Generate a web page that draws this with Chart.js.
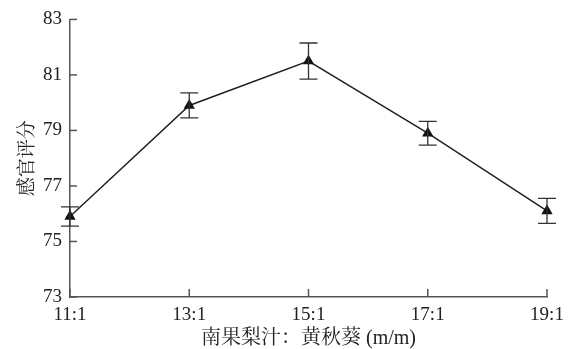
<!DOCTYPE html>
<html>
<head>
<meta charset="utf-8">
<script src="https://cdn.jsdelivr.net/npm/chart.js@4/dist/chart.umd.min.js"></script>
<style>
  html, body { margin: 0; padding: 0; background: #fff; }
  #wrap { width: 574px; height: 349px; }
</style>
</head>
<body>
<div id="wrap"><canvas id="myChart"></canvas></div>
<script>
// data
var ratios = ['11:1', '13:1', '15:1', '17:1', '19:1'];
var scores = [75.9, 79.9, 81.5, 78.9, 76.1];
var errors = [0.35, 0.45, 0.65, 0.43, 0.45];
var yTicks = [73, 75, 77, 79, 81, 83];

var axisColor = '#555';
var fontFamily = '"Liberation Serif", "Noto Serif CJK SC", "Noto Sans CJK SC", serif';

// error bars + inward tick marks
var extras = {
    id: 'extras',
    afterDatasetsDraw: function(chart) {
        var c = chart.ctx;
        var x = chart.scales.x, y = chart.scales.y;
        c.save();
        c.strokeStyle = '#333';
        c.lineWidth = 1.3;
        scores.forEach(function(v, i) {
            var px = x.getPixelForValue(i);
            var top = y.getPixelForValue(v + errors[i]);
            var bot = y.getPixelForValue(v - errors[i]);
            c.beginPath();
            c.moveTo(px, top); c.lineTo(px, bot);
            c.moveTo(px - 9, top); c.lineTo(px + 9, top);
            c.moveTo(px - 9, bot); c.lineTo(px + 9, bot);
            c.stroke();
        });
        c.strokeStyle = axisColor;
        c.lineWidth = 1.5;
        var area = chart.chartArea;
        yTicks.forEach(function(t) {
            var py = y.getPixelForValue(t);
            c.beginPath();
            c.moveTo(area.left, py); c.lineTo(area.left + 7, py);
            c.stroke();
        });
        ratios.forEach(function(r, i) {
            var px = x.getPixelForValue(i);
            c.beginPath();
            c.moveTo(px, area.bottom); c.lineTo(px, area.bottom - 8);
            c.stroke();
        });
        c.restore();
    }
};

var graphData = {
    type: 'line',
    data: {
        labels: ratios,
        datasets: [{
            data: scores,
            borderColor: '#222',
            borderWidth: 1.5,
            pointStyle: 'triangle',
            pointRadius: 5,
            pointBackgroundColor: '#111',
            pointBorderColor: '#111',
            tension: 0
        }]
    },
    options: {
        responsive: true,
        maintainAspectRatio: false,
        animation: false,
        layout: { padding: { top: 17, right: 27, left: 0, bottom: 0 } },
        plugins: { legend: { display: false }, tooltip: { enabled: false } },
        scales: {
            x: {
                offset: false,
                grid: { display: false, drawTicks: false },
                border: { color: axisColor, width: 1.5 },
                ticks: { color: '#222', padding: 7, maxRotation: 0, font: { family: fontFamily, size: 19 } },
                title: { display: true, text: '南果梨汁：黄秋葵 (m/m)', color: '#222', padding: { top: 0, bottom: -2 }, font: { family: fontFamily, size: 20 } },
                afterFit: function(s) { s.height = 52; }
            },
            y: {
                min: 73, max: 83,
                grid: { display: false, drawTicks: false },
                border: { color: axisColor, width: 1.5 },
                ticks: { stepSize: 2, color: '#222', padding: 8, font: { family: fontFamily, size: 19 } },
                title: { display: true, text: '感官评分', color: '#222', padding: { top: 17, bottom: 0 }, font: { family: fontFamily, size: 19 } },
                afterFit: function(s) { s.width = 70; }
            }
        }
    },
    plugins: [extras]
};
var myChart = new Chart(document.getElementById('myChart'), graphData);
</script>
</body>
</html>
